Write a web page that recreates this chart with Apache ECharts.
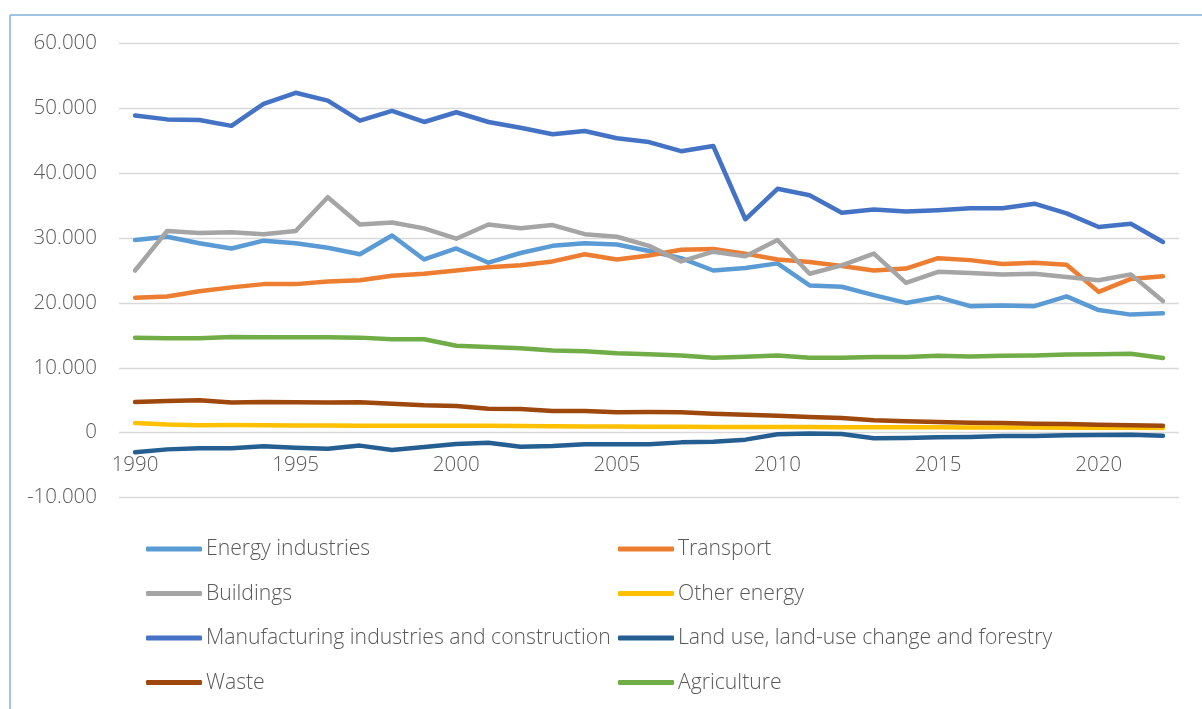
<!DOCTYPE html>
<html>
<head>
<meta charset="utf-8">
<script src="https://cdn.jsdelivr.net/npm/echarts@6/dist/echarts.min.js"></script>
<style>
html,body{margin:0;padding:0;background:#fff;}
#chart{width:1202px;height:709px;}
</style>
</head>
<body>
<div id="chart"></div>
<script>
const years = ['1990','1991','1992','1993','1994','1995','1996','1997','1998','1999','2000','2001','2002','2003','2004','2005','2006','2007','2008','2009','2010','2011','2012','2013','2014','2015','2016','2017','2018','2019','2020','2021','2022'];
const yTicks = [-10000, 0, 10000, 20000, 30000, 40000, 50000, 60000];

const energyIndustries = [29700,30200,29200,28400,29600,29200,28500,27500,30400,26700,28400, 26200,27700,28800,29200,29000,28000,26900,25000,25400,26100,22700, 22500,21200,20000,20900,19500,19600,19500,21000,18900,18200,18400];
const transport = [20800,21000,21800,22400,22900,22900,23300,23500,24200,24500,25000, 25500,25800,26400,27500,26700,27300,28200,28300,27600,26700,26300, 25700,25000,25300,26900,26600,26000,26200,25900,21700,23700,24100];
const buildings = [25000,31100,30800,30900,30600,31100,36300,32100,32400,31500,29900, 32100,31500,32000,30600,30200,28800,26400,27900,27200,29700,24500, 25800,27600,23100,24800,24600,24400,24500,24000,23500,24400,20300];
const otherEnergy = [1480,1250,1150,1180,1130,1100,1100,1080,1050,1050,1050, 1050,1020,1000,960,950,920,900,880,870,870,860, 850,840,830,820,800,790,780,760,750,740,720];
const manufacturing = [48900,48300,48200,47300,50700,52400,51200,48100,49600,47900,49400, 47900,47000,46000,46500,45400,44800,43400,44200,32900,37600,36600, 33900,34400,34100,34300,34600,34600,35300,33800,31700,32200,29400];
const landUse = [-3040,-2580,-2420,-2420,-2110,-2320,-2470,-2000,-2680,-2220,-1760, -1550,-2160,-2060,-1800,-1800,-1800,-1500,-1390,-1080,-260,-150, -200,-880,-830,-720,-670,-520,-520,-410,-360,-310,-460];
const waste = [4720,4880,4980,4630,4720,4680,4630,4680,4470,4210,4100, 3700,3650,3330,3330,3130,3180,3130,2930,2770,2620,2410, 2260,1900,1740,1640,1540,1500,1390,1330,1230,1130,1080];
const agriculture = [14650,14550,14550,14750,14700,14700,14700,14650,14400,14400,13400, 13200,13000,12650,12550,12250,12100,11900,11550,11700,11900,11550, 11550,11650,11650,11850,11750,11850,11900,12050,12100,12150,11500];

const seriesDefs = [
  {name:'Energy industries', data: energyIndustries, color:'#5B9BD5'},
  {name:'Transport', data: transport, color:'#ED7D31'},
  {name:'Buildings', data: buildings, color:'#A5A5A5'},
  {name:'Other energy', data: otherEnergy, color:'#FFC000'},
  {name:'Manufacturing industries and construction', data: manufacturing, color:'#4472C4'},
  {name:'Land use, land-use change and forestry', data: landUse, color:'#255E91'},
  {name:'Waste', data: waste, color:'#9E480E'},
  {name:'Agriculture', data: agriculture, color:'#70AD47'}
];

const FONT = '"Open Sans", "Noto Sans", sans-serif';
const TXT = '#595959';
const FS = 20.5;

function fmt(v){
  if (v === 0) return '0';
  const s = Math.abs(v).toString().replace(/\B(?=(\d{3})+(?!\d))/g, '.');
  return (v < 0 ? '-' : '') + s;
}

const chart = echarts.init(document.getElementById('chart'), null, {renderer:'canvas'});
const legendCommon = {
  orient: 'vertical',
  top: 538,
  padding: 0,
  itemWidth: 56,
  itemHeight: 5,
  itemGap: 22.5,
  icon: 'roundRect',
  textStyle: {color: TXT, fontFamily: FONT, fontSize: 21.2, fontWeight: 300, lineHeight: 22, padding: [0,0,0,-1]}
};
chart.setOption({
  animation: false,
  backgroundColor: '#ffffff',
  graphic: [
    {type:'line', shape:{x1:10, y1:15, x2:1202, y2:15}, style:{stroke:'#7FB2D8', lineWidth:1.5}},
    {type:'line', shape:{x1:10, y1:15, x2:10, y2:709}, style:{stroke:'#7FB2D8', lineWidth:1.5}}
  ],
  grid: {left: 119, right: 23, top: 43.5, bottom: 211.5, containLabel: false},
  legend: [
    Object.assign({left: 146, data: ['Energy industries','Buildings','Manufacturing industries and construction','Waste']}, legendCommon),
    Object.assign({left: 618, data: ['Transport','Other energy','Land use, land-use change and forestry','Agriculture']}, legendCommon)
  ],
  xAxis: {
    type: 'category',
    data: years,
    boundaryGap: true,
    offset: -65.4,
    axisLine: {show: false, onZero: false},
    axisTick: {show: false},
    axisLabel: {
      interval: 4,
      margin: 23,
      color: TXT, fontFamily: FONT, fontSize: FS, fontWeight: 300
    },
    splitLine: {show: false}
  },
  yAxis: {
    type: 'value',
    min: yTicks[0],
    max: yTicks[yTicks.length - 1],
    interval: 10000,
    axisLine: {show: false},
    axisTick: {show: false},
    axisLabel: {margin: 22, color: TXT, fontFamily: FONT, fontSize: FS, fontWeight: 300, formatter: fmt},
    splitLine: {lineStyle: {color: '#D9D9D9', width: 1.3}}
  },
  series: seriesDefs.map(s => ({
    name: s.name,
    type: 'line',
    data: s.data,
    symbol: 'none',
    smooth: false,
    color: s.color,
    lineStyle: {color: s.color, width: 4.5, cap: 'round', join: 'round'},
    itemStyle: {color: s.color},
    emphasis: {disabled: true}
  }))
});
</script>
</body>
</html>
